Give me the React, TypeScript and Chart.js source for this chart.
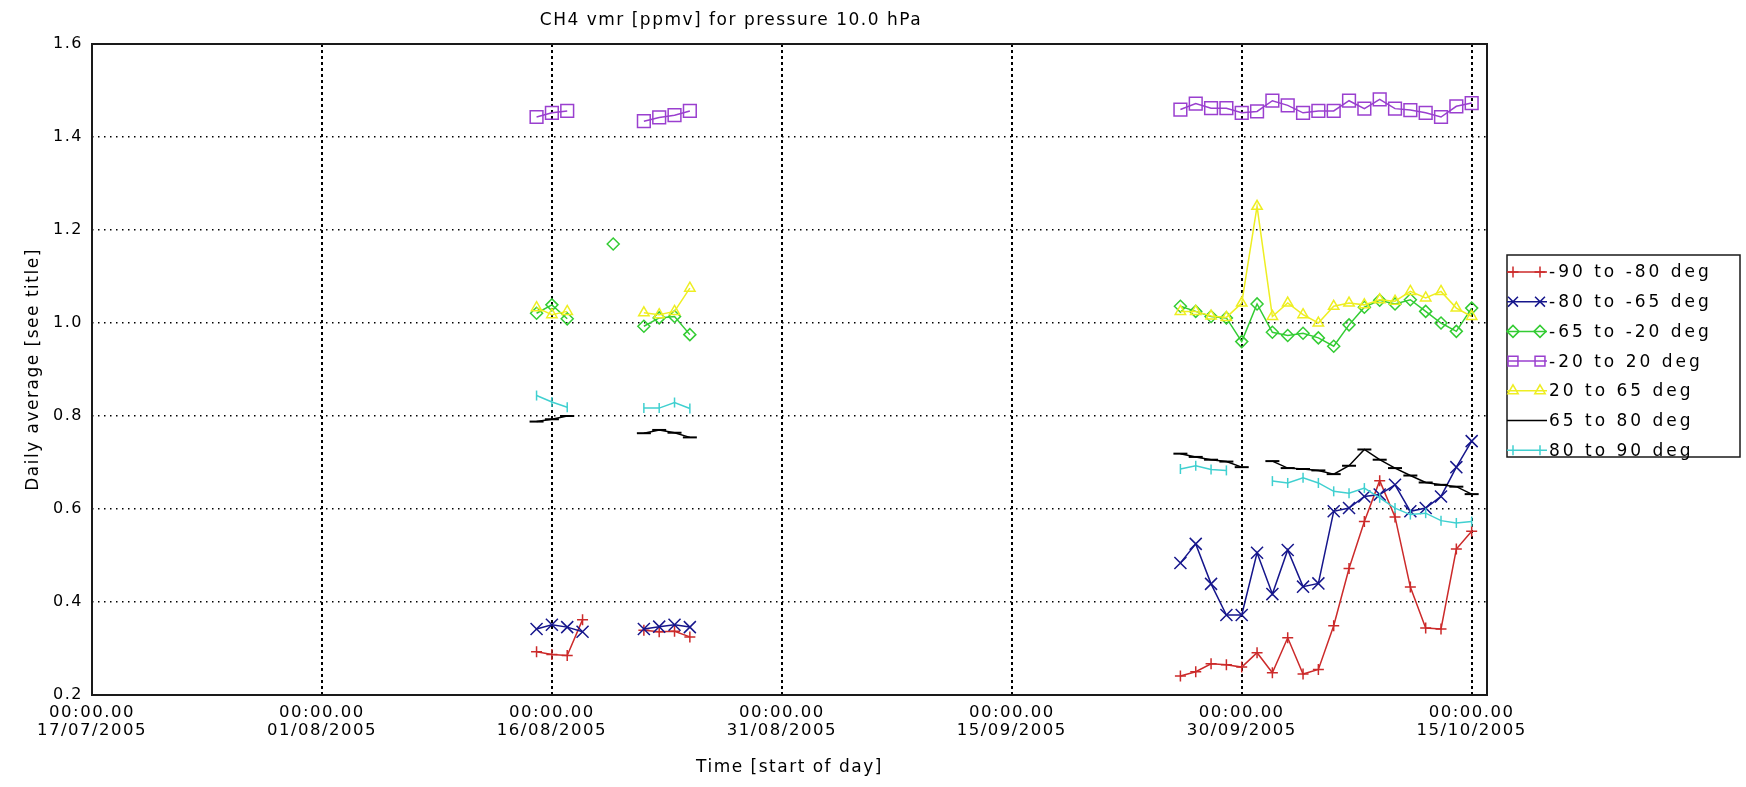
import React, { useEffect, useRef } from 'react';
import { Chart, registerables } from 'chart.js';

Chart.register(...registerables);

// ---- data (x = days since 17/07/2005) ----
const days = [29, 30, 31, 32, 33, 34, 35, 36, 37, 38, 39, 70, 71, 72, 73, 74, 75, 76, 77, 78, 79, 80, 81, 82, 83, 84, 85, 86, 87, 88, 89, 90];

const red = [0.293, 0.287, 0.285, 0.362, null, null, null, 0.339, 0.336, 0.337, 0.325, null, 0.241, 0.250, 0.267, 0.265, 0.260, 0.291, 0.248, 0.323, 0.245, 0.255, 0.349, 0.472, 0.573, 0.661, 0.583, 0.432, 0.344, 0.342, 0.514, 0.552];
const blue = [0.342, 0.351, 0.346, 0.336, null, null, null, 0.342, 0.347, 0.351, 0.346, null, 0.484, 0.525, 0.439, 0.372, 0.372, 0.506, 0.417, 0.512, 0.433, 0.440, 0.595, 0.602, 0.627, 0.631, 0.652, 0.595, 0.602, 0.627, 0.690, 0.746];
const green = [1.021, 1.039, 1.009, null, null, 1.17, null, 0.993, 1.011, 1.014, 0.975, null, 1.036, 1.025, 1.014, 1.011, 0.960, 1.041, 0.980, 0.973, 0.978, 0.968, 0.950, 0.996, 1.034, 1.049, 1.041, 1.050, 1.025, 1.000, 0.982, 1.032];
const purple = [1.443, 1.452, 1.456, null, null, null, null, 1.434, 1.442, 1.447, 1.456, null, 1.459, 1.472, 1.462, 1.462, 1.452, 1.455, 1.478, 1.468, 1.452, 1.456, 1.456, 1.478, 1.461, 1.481, 1.461, 1.458, 1.452, 1.443, 1.466, 1.473];
const yellow = [1.033, 1.018, 1.025, null, null, null, null, 1.022, 1.018, 1.025, 1.075, null, 1.025, 1.025, 1.015, 1.012, 1.043, 1.251, 1.014, 1.043, 1.018, 1.000, 1.036, 1.043, 1.039, 1.050, 1.047, 1.068, 1.054, 1.068, 1.032, 1.014];
const black = [0.788, 0.793, 0.800, null, null, null, null, 0.763, 0.770, 0.764, 0.754, null, 0.719, 0.712, 0.706, 0.702, 0.690, null, 0.703, 0.688, 0.686, 0.683, 0.675, 0.693, 0.728, 0.706, 0.688, 0.672, 0.657, 0.652, 0.648, 0.632];
const cyan = [0.844, 0.830, 0.819, null, null, null, null, 0.817, 0.817, 0.829, 0.816, null, 0.686, 0.693, 0.685, 0.683, null, null, 0.660, 0.656, 0.667, 0.656, 0.638, 0.634, 0.645, 0.624, 0.602, 0.588, 0.591, 0.575, 0.570, 0.573];

const seriesLabels = ['-90 to -80 deg', '-80 to -65 deg', '-65 to -20 deg', '-20 to 20 deg', '20 to 65 deg', '65 to 80 deg', '80 to 90 deg'];

const xTickDays = [0, 15, 30, 45, 60, 75, 90];
const xTickTimes = ['00:00.00', '00:00.00', '00:00.00', '00:00.00', '00:00.00', '00:00.00', '00:00.00'];
const xTickDates = ['17/07/2005', '01/08/2005', '16/08/2005', '31/08/2005', '15/09/2005', '30/09/2005', '15/10/2005'];
const yTicks = [0.2, 0.4, 0.6, 0.8, 1.0, 1.2, 1.4, 1.6];

const titleText = 'CH4 vmr [ppmv] for pressure 10.0 hPa';
const xTitle = 'Time [start of day]';
const yTitle = 'Daily average [see title]';

const FONT = 'DejaVu Sans';

type Style = { color: string; pointStyle: any; radius: number; rotation?: number; bw?: number; legendMarkers: boolean };
const styles: Style[] = [
  { color: '#cc2a2a', pointStyle: 'cross', radius: 5.5, legendMarkers: true },
  { color: '#16168c', pointStyle: 'crossRot', radius: 8.5, legendMarkers: true },
  { color: '#33cc33', pointStyle: 'rectRot', radius: 6, legendMarkers: true },
  { color: '#9a3fcf', pointStyle: 'rect', radius: 9, legendMarkers: true },
  { color: '#eeee22', pointStyle: 'triangle', radius: 6, legendMarkers: true },
  { color: '#000000', pointStyle: 'line', radius: 7, bw: 2, legendMarkers: false },
  { color: '#40d0d0', pointStyle: 'line', radius: 5, rotation: 90, legendMarkers: true },
];
const seriesValues = [red, blue, green, purple, yellow, black, cyan];

function drawMarker(ctx: CanvasRenderingContext2D, style: string, x: number, y: number, r: number, rot = 0) {
  ctx.beginPath();
  const s = Math.SQRT1_2 * r;
  switch (style) {
    case 'cross':
      ctx.moveTo(x - r, y); ctx.lineTo(x + r, y); ctx.moveTo(x, y - r); ctx.lineTo(x, y + r); break;
    case 'crossRot':
      ctx.moveTo(x - s, y - s); ctx.lineTo(x + s, y + s); ctx.moveTo(x - s, y + s); ctx.lineTo(x + s, y - s); break;
    case 'rectRot':
      ctx.moveTo(x - r, y); ctx.lineTo(x, y - r); ctx.lineTo(x + r, y); ctx.lineTo(x, y + r); ctx.closePath(); break;
    case 'rect':
      ctx.rect(x - s, y - s, 2 * s, 2 * s); break;
    case 'triangle':
      ctx.moveTo(x, y - r); ctx.lineTo(x + r * 0.866, y + r * 0.5); ctx.lineTo(x - r * 0.866, y + r * 0.5); ctx.closePath();
      break;
    case 'line':
      if (rot === 90) { ctx.moveTo(x, y - r); ctx.lineTo(x, y + r); } else { ctx.moveTo(x - r, y); ctx.lineTo(x + r, y); }
      break;
  }
  ctx.stroke();
}

const spacingPlugin = {
  id: 'spacing',
  afterLayout(chart: any) {
    const tb = chart.titleBlock;
    if (tb) { tb.left = 0; tb.right = 1462; }
  },
  beforeDraw(chart: any) {
    try { (chart.ctx as any).letterSpacing = '1.5px'; } catch (e) { /* ignore */ }
  },
};

const framePlugin = {
  id: 'frame',
  beforeDatasetsDraw(chart: any) {
    const { ctx, chartArea: a } = chart;
    ctx.save();
    ctx.strokeStyle = '#1a1a1a';
    ctx.lineWidth = 2;
    ctx.strokeRect(a.left, a.top, a.right - a.left, a.bottom - a.top);
    ctx.restore();
  },
};

const legendPlugin = {
  id: 'boxLegend',
  afterDraw(chart: any) {
    const { ctx, chartArea: a } = chart;
    const left = a.right + 20;
    const top = a.top + 211;
    const w = 233;
    const h = 202;
    const rowH = 29.7;
    ctx.save();
    ctx.strokeStyle = '#1a1a1a';
    ctx.lineWidth = 1.5;
    ctx.strokeRect(left, top, w, h);
    ctx.font = `17px "${FONT}"`;
    try { (ctx as any).letterSpacing = '3px'; } catch (e) { /* ignore */ }
    ctx.textBaseline = 'middle';
    ctx.textAlign = 'left';
    seriesLabels.forEach((lab, i) => {
      const st = styles[i];
      const y = top + 17 + i * rowH;
      ctx.strokeStyle = st.color;
      ctx.lineWidth = 1.5;
      ctx.beginPath();
      ctx.moveTo(left, y);
      ctx.lineTo(left + 40, y);
      ctx.stroke();
      if (st.legendMarkers) {
        drawMarker(ctx, st.pointStyle, left + 6, y, Math.min(st.radius, 7), st.rotation || 0);
        drawMarker(ctx, st.pointStyle, left + 33, y, Math.min(st.radius, 7), st.rotation || 0);
      }
      ctx.fillStyle = '#000';
      ctx.fillText(lab, left + 42, y + 1);
    });
    ctx.restore();
  },
};

export default function App() {
  const ref = useRef<HTMLCanvasElement>(null);
  useEffect(() => {
    document.body.style.margin = '0';
    document.body.style.background = '#fff';
    const canvas = ref.current!;
    const datasets = seriesValues.map((vals, i) => {
      const st = styles[i];
      return {
        label: seriesLabels[i],
        data: days.map((d, j) => ({ x: d, y: vals[j] })),
        borderColor: st.color,
        backgroundColor: 'rgba(0,0,0,0)',
        borderWidth: 1.5,
        pointStyle: st.pointStyle,
        pointRadius: st.radius,
        pointRotation: st.rotation || 0,
        pointBorderColor: st.color,
        pointBackgroundColor: 'rgba(0,0,0,0)',
        pointBorderWidth: st.bw || 1.5,
        spanGaps: false,
        tension: 0,
        order: seriesValues.length - i,
      };
    });
    const chart = new Chart(canvas, {
      type: 'line',
      data: { datasets },
      options: {
        responsive: false,
        animation: false,
        events: [],
        layout: { padding: { left: 0, right: 259, top: 0, bottom: 0 } },
        plugins: {
          legend: { display: false },
          tooltip: { enabled: false },
          title: {
            display: true,
            text: titleText,
            fullSize: true,
            color: '#000',
            font: { family: FONT, size: 17, weight: 'normal' },
            padding: { top: 10, bottom: 13.6 },
          },
        },
        scales: {
          x: {
            type: 'linear',
            min: 0,
            max: 91,
            afterBuildTicks: (s: any) => { s.ticks = xTickDays.map((v) => ({ value: v })); },
            afterFit: (s: any) => { s.height = 92; },
            ticks: {
              autoSkip: false,
              maxRotation: 0,
              color: '#000',
              padding: 9,
              font: { family: FONT, size: 16.5, lineHeight: 1.07 },
              callback: (v: any) => {
                const i = xTickDays.indexOf(Number(v));
                return i >= 0 ? [xTickTimes[i], xTickDates[i]] : '';
              },
            },
            grid: { color: '#000', lineWidth: 2, drawTicks: false },
            border: { display: false, dash: [3, 3] },
            title: {
              display: true,
              text: xTitle,
              color: '#000',
              font: { family: FONT, size: 17 },
              padding: { top: 0, bottom: 9 },
            },
          },
          y: {
            type: 'linear',
            min: 0.2,
            max: 1.6,
            afterBuildTicks: (s: any) => { s.ticks = yTicks.map((v) => ({ value: v })); },
            afterFit: (s: any) => { s.width = 92; },
            ticks: {
              color: '#000',
              padding: 9,
              font: { family: FONT, size: 16 },
              callback: (v: any) => Number(v).toFixed(1),
            },
            grid: { color: '#000', lineWidth: 1.5, drawTicks: false },
            border: { display: false, dash: [1.5, 4.5] },
            title: {
              display: true,
              text: yTitle,
              color: '#000',
              font: { family: FONT, size: 17 },
              padding: { top: 23, bottom: 0 },
            },
          },
        },
      },
      plugins: [spacingPlugin, framePlugin, legendPlugin],
    } as any);
    return () => chart.destroy();
  }, []);
  return (
    <div style={{ width: 1746, height: 787, background: '#fff' }}>
      <canvas ref={ref} width={1746} height={787} style={{ display: 'block' }} />
    </div>
  );
}
